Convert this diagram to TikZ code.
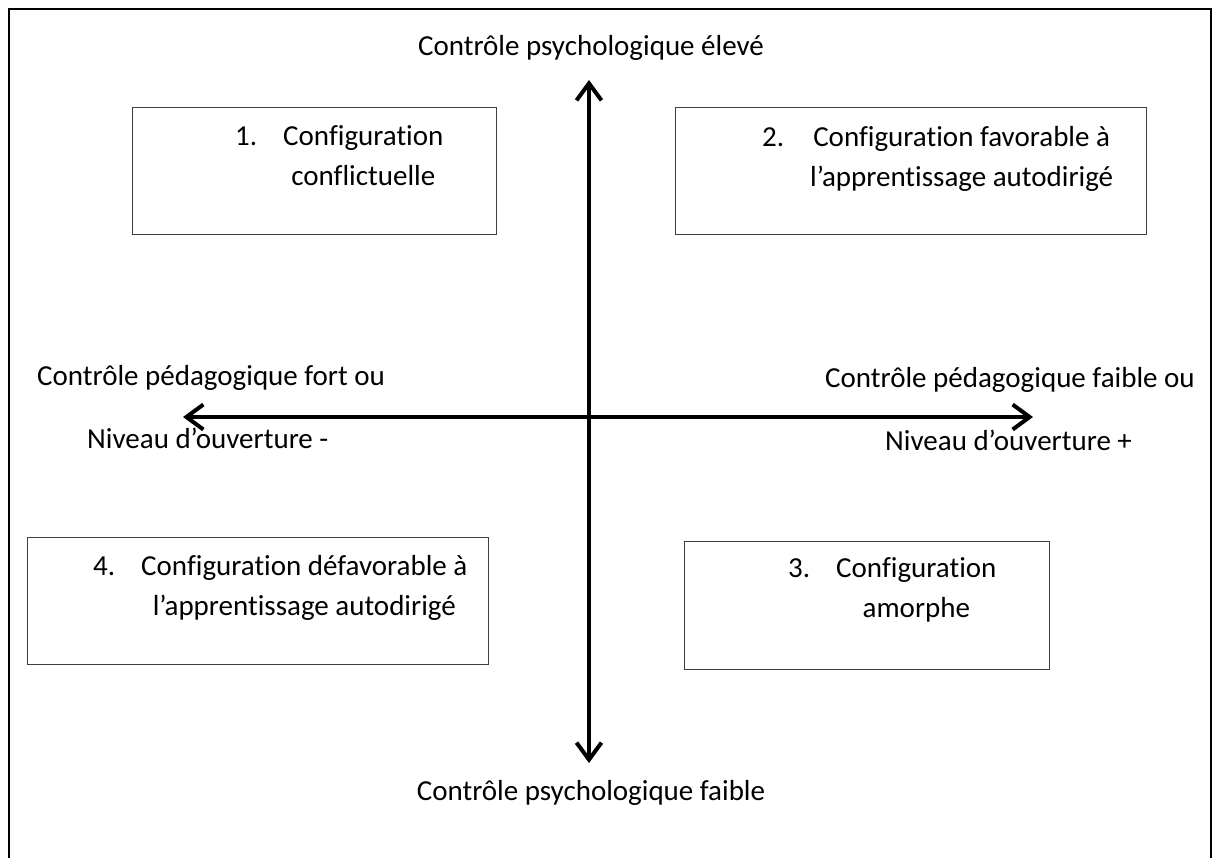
\documentclass[tikz,border=0pt]{standalone}
\usepackage{fontspec}
\setmainfont[Ligatures=NoCommon]{Carlito}
\usepackage{tikz}
\usetikzlibrary{arrows.meta}

\begin{document}
\begin{tikzpicture}[x=1pt, y=-1pt,
    every node/.style={inner sep=0pt, font=\fontsize{29}{40}\selectfont},
    axisarrow/.style={line width=4pt, {Straight Barb[length=17pt,width=25pt]}-{Straight Barb[length=17pt,width=25pt]}},
    cfgbox/.style={draw=black!75, line width=1.4pt, anchor=north west},
    cfgtext/.style={anchor=base west}]
  \useasboundingbox (0,0) rectangle (1220,857);
  % Frame
  \draw[line width=2pt] (9,9) rectangle (1211,880);
  % Axes
  \coordinate (top) at (589,80);
  \coordinate (bottom) at (589,763);
  \coordinate (left) at (183,417);
  \coordinate (right) at (1033,417);
  \draw[axisarrow] (bottom) -- (top);
  \draw[axisarrow] (left) -- (right);
  \node[anchor=base] (high) at (591,55) {Contrôle psychologique élevé};
  \node[anchor=base] (low) at (591,800) {Contrôle psychologique faible};
  \node[anchor=base west] (strong) at (37,385) {Contrôle pédagogique fort ou};
  \node[anchor=base west] (closed) at (87,448) {Niveau d’ouverture -};
  \node[anchor=base west] (weak) at (825,387) {Contrôle pédagogique faible ou};
  \node[anchor=base west] (open) at (885,450) {Niveau d’ouverture +};
  % Configurations
  \node[cfgbox, minimum width=364pt, minimum height=127pt] (box1) at (132,107) {};
  \node[cfgbox, minimum width=471pt, minimum height=127pt] (box2) at (675,107) {};
  \node[cfgbox, minimum width=365pt, minimum height=128pt] (box3) at (684,541) {};
  \node[cfgbox, minimum width=461pt, minimum height=127pt] (box4) at (27,537) {};
  \node[cfgtext] (conf1) at (235,145) {\makebox[48pt][l]{1.}\begin{tabular}[t]{@{}c@{}}Configuration\\conflictuelle\end{tabular}};
  \node[cfgtext] (conf2) at (762,146) {\makebox[48pt][l]{2.}\begin{tabular}[t]{@{}c@{}}Configuration favorable à\\l’apprentissage autodirigé\end{tabular}};
  \node[cfgtext] (conf3) at (788,577) {\makebox[48pt][l]{3.}\begin{tabular}[t]{@{}c@{}}Configuration\\amorphe\end{tabular}};
  \node[cfgtext] (conf4) at (93,575) {\makebox[48pt][l]{4.}\begin{tabular}[t]{@{}c@{}}Configuration défavorable à\\l’apprentissage autodirigé\end{tabular}};
\end{tikzpicture}
\end{document}
